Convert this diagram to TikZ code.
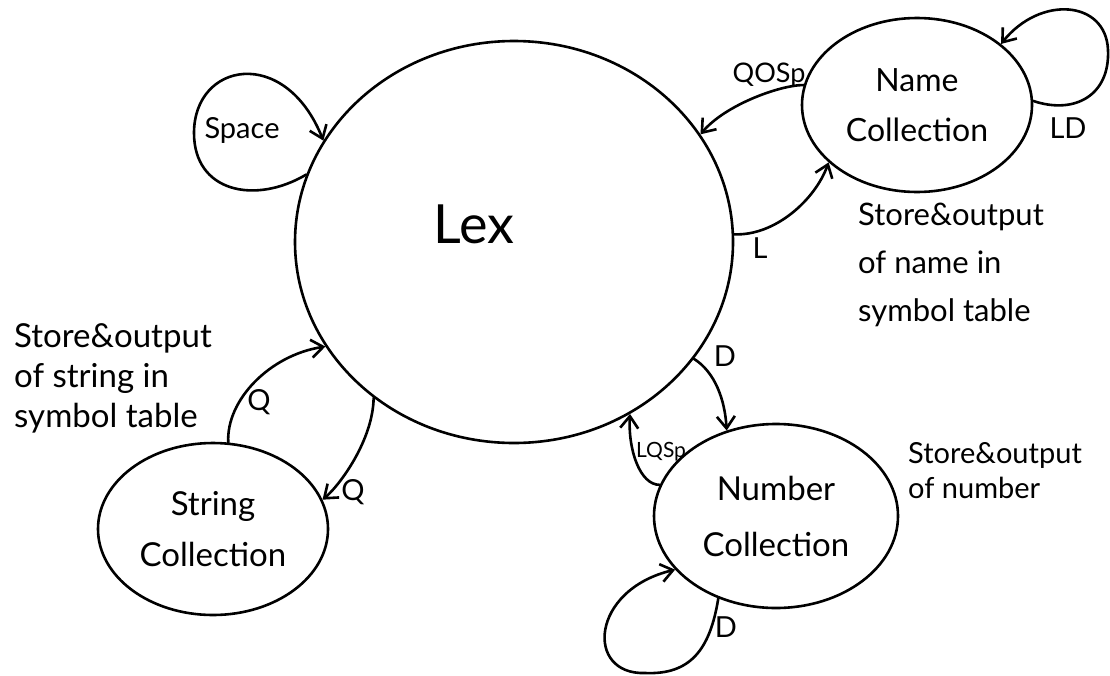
\documentclass[tikz,border=0pt]{standalone}
\usepackage{fontspec}
\setmainfont{Lato}
\usetikzlibrary{shapes.geometric,arrows.meta}
\begin{document}
\begin{tikzpicture}[x=1pt,y=-1pt,
  state/.style={ellipse, draw, line width=2.6pt, inner sep=0pt, align=center},
  edge/.style={draw, line width=2.6pt, line cap=round, line join=round, -{Straight Barb[length=12pt,width=18pt]}},
  lbl/.style={font=\fontsize{29}{32}\selectfont, inner sep=0pt},
  note/.style={align=left, anchor=north west, inner sep=0pt}]
\useasboundingbox (0,0) rectangle (1110,675);

% states
\node[state, minimum width=438pt, minimum height=402pt] (lex) at (514,242) {};
\node[font=\fontsize{54}{60}\selectfont, inner sep=0pt] (lexlabel) at (474,224) {Lex};
\node[state, minimum width=230pt, minimum height=174pt, font=\fontsize{32}{50}\selectfont] (name) at (917,105) {Name\\Collection};
\node[state, minimum width=244pt, minimum height=184pt, font=\fontsize{33}{56}\selectfont] (number) at (776,516) {Number\\Collection};
\node[state, minimum width=230pt, minimum height=172pt, font=\fontsize{33}{51}\selectfont] (string) at (213,529) {String\\Collection};

% transitions
\draw[edge] (lex.162.7) .. controls (255,205) and (194,192) .. (194,133) .. controls (194,62) and (285,45) .. (lex.152.1);
\draw[edge] (name.170.9) .. controls (780,85) and (725,105) .. (lex.30.3);
\draw[edge] (lex.2.7) .. controls (775,236) and (815,200) .. (name.213.7);
\draw[edge] (name.2.5) .. controls (1075,115) and (1110,95) .. (1108,50) .. controls (1106,0) and (1040,-5) .. (name.36.8);
\draw[edge] (lex.-33.8) .. controls (715,372) and (725,400) .. (number.120.3);
\draw[edge] (number.165.8) .. controls (640,485) and (628,450) .. (lex.-56.2);
\draw[edge] (number.235.9) .. controls (710,650) and (690,675) .. (645,673) .. controls (585,675) and (590,590) .. (number.208.7);
\draw[edge] (string.80.8) .. controls (226,400) and (270,355) .. (lex.209.7);
\draw[edge] (lex.-132.5) .. controls (373,440) and (340,485) .. (string.15.8);

% labels
\node[lbl] (lspace) at (242,130) {Space};
\node[lbl, font=\fontsize{27}{30}\selectfont] (lqosp) at (769,75) {QOSp};
\node[lbl] (lld) at (1068,128) {LD};
\node[lbl] (ll) at (760,248) {L};
\node[lbl] (ld1) at (725,356) {D};
\node[lbl, font=\fontsize{21}{24}\selectfont] (llqsp) at (661,452) {LQSp};
\node[lbl] (ld2) at (726,627) {D};
\node[lbl] (lq1) at (259,402) {Q};
\node[lbl] (lq2) at (353,492) {Q};

% notes
\node[note, font=\fontsize{31}{48}\selectfont] (namenote) at (858,203) {Store\&output\\of name in\\symbol table};
\node[note, font=\fontsize{33}{40}\selectfont] (stringnote) at (14,323) {Store\&output\\of string in\\symbol table};
\node[note, font=\fontsize{29}{35}\selectfont] (numbernote) at (908,442) {Store\&output\\of number};
\end{tikzpicture}
\end{document}
